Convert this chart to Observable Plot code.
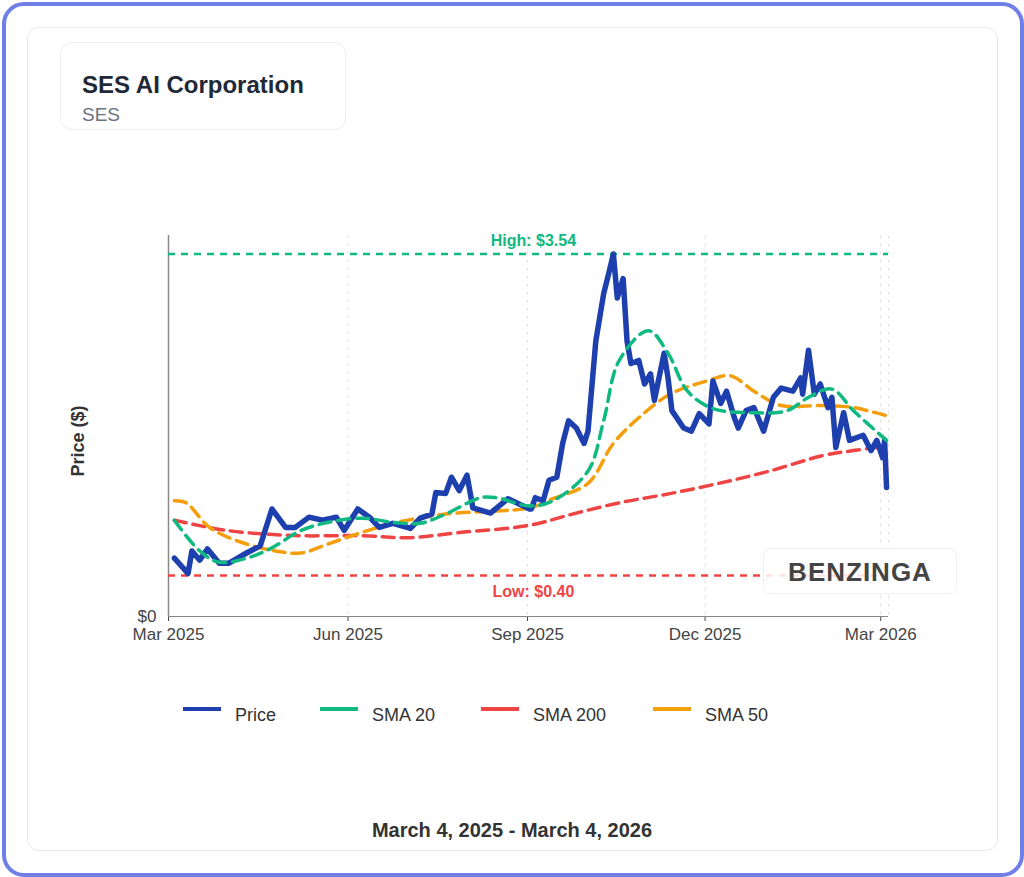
<!DOCTYPE html>
<html><head><meta charset="utf-8">
<script src="https://cdn.jsdelivr.net/npm/d3@7"></script>
<script src="https://cdn.jsdelivr.net/npm/@observablehq/plot@0.6"></script>
<style>
body{margin:0;width:1024px;height:877px;position:relative;font-family:"Liberation Sans",Arial,sans-serif;background:#fff;overflow:hidden}
.frame{position:absolute;left:2px;top:2px;width:1014px;height:867px;border:4px solid #6f7fe6;border-radius:22px}
.card{position:absolute;left:27px;top:27px;width:969px;height:822px;border:1px solid #e5e7eb;border-radius:12px}
.title{position:absolute;left:60px;top:42px;width:284px;height:86px;border:1px solid #eceef1;border-radius:12px;background:rgba(255,255,255,.9);z-index:2}
.title .t{position:absolute;left:21px;top:28px;font-weight:700;font-size:24px;color:#1f2937}
.title .s{position:absolute;left:21px;top:61px;font-size:19px;color:#6b7280}
#chart{position:absolute;left:0;top:0}
.wm{position:absolute;left:763px;top:548px;width:192px;height:44px;border:1px solid #f0f0f0;border-radius:8px;background:rgba(255,255,255,.85);font:700 26px "Liberation Sans",Arial,sans-serif;color:#444;text-align:center;line-height:46px;letter-spacing:1px}
.ylab{position:absolute;left:78px;top:441px;transform:translate(-50%,-50%) rotate(-90deg);font-weight:700;font-size:18px;color:#333;white-space:nowrap}
.leg{position:absolute;top:705px;font-size:18px;color:#333}
.leg span.sw{position:absolute;top:2px;width:38px;height:4px}
.foot{position:absolute;left:0;width:1024px;top:819px;text-align:center;font-weight:700;font-size:20px;color:#333}
</style></head><body>
<div class="frame"></div><div class="card"></div>
<div id="chart"></div>
<div class="title"><div class="t">SES AI Corporation</div><div class="s">SES</div></div>
<div class="wm">BENZINGA</div>
<div class="ylab">Price ($)</div>
<div id="legend"></div>
<div class="foot">March 4, 2025 - March 4, 2026</div>
<script>
const priceDates=["2025-03-04","2025-03-11","2025-03-13","2025-03-17","2025-03-21","2025-03-27","2025-04-01","2025-04-10","2025-04-17","2025-04-23","2025-04-30","2025-05-05","2025-05-12","2025-05-19","2025-05-26","2025-05-30","2025-06-06","2025-06-12","2025-06-17","2025-06-24","2025-07-03","2025-07-08","2025-07-14","2025-07-16","2025-07-21","2025-07-24","2025-07-28","2025-08-01","2025-08-04","2025-08-13","2025-08-22","2025-09-02","2025-09-03","2025-09-05","2025-09-09","2025-09-12","2025-09-16","2025-09-19","2025-09-22","2025-09-26","2025-09-30","2025-10-02","2025-10-06","2025-10-10","2025-10-13","2025-10-15","2025-10-17","2025-10-20","2025-10-22","2025-10-24","2025-10-28","2025-10-31","2025-11-03","2025-11-05","2025-11-10","2025-11-12","2025-11-14","2025-11-20","2025-11-24","2025-11-28","2025-12-03","2025-12-05","2025-12-09","2025-12-12","2025-12-16","2025-12-18","2025-12-22","2025-12-26","2025-12-31","2026-01-05","2026-01-09","2026-01-15","2026-01-19","2026-01-20","2026-01-23","2026-01-26","2026-01-29","2026-02-02","2026-02-04","2026-02-06","2026-02-10","2026-02-13","2026-02-20","2026-02-24","2026-02-27","2026-03-02","2026-03-03","2026-03-04"];
const priceValues=[0.57,0.42,0.64,0.55,0.66,0.52,0.52,0.62,0.69,1.05,0.87,0.87,0.97,0.94,0.97,0.84,1.05,0.97,0.87,0.91,0.86,0.96,1.00,1.21,1.20,1.36,1.23,1.38,1.06,1.01,1.15,1.05,1.05,1.16,1.13,1.33,1.36,1.69,1.91,1.84,1.69,1.81,2.69,3.15,3.38,3.54,3.11,3.30,2.69,2.47,2.50,2.27,2.37,2.11,2.57,2.33,2.01,1.84,1.81,1.98,1.88,2.30,2.08,2.20,1.94,1.84,2.01,2.04,1.81,2.14,2.23,2.20,2.33,2.17,2.60,2.17,2.27,2.04,2.14,1.65,1.99,1.72,1.77,1.62,1.72,1.55,1.72,1.26];
const sma20Dates=["2025-03-04","2025-03-17","2025-03-27","2025-04-10","2025-04-22","2025-05-08","2025-05-22","2025-06-08","2025-06-24","2025-07-08","2025-07-21","2025-08-08","2025-08-16","2025-09-02","2025-09-14","2025-10-02","2025-10-10","2025-10-18","2025-11-02","2025-11-12","2025-11-22","2025-12-05","2025-12-26","2026-01-12","2026-01-23","2026-02-04","2026-02-15","2026-03-04"];
const sma20Values=[0.94,0.64,0.53,0.57,0.66,0.84,0.92,0.96,0.92,0.91,1.00,1.16,1.16,1.08,1.13,1.42,1.91,2.50,2.79,2.57,2.20,2.03,1.99,2.01,2.14,2.22,2.01,1.72];
const sma50Dates=["2025-03-04","2025-03-10","2025-03-22","2025-04-08","2025-04-25","2025-05-08","2025-05-22","2025-06-08","2025-06-24","2025-07-21","2025-08-16","2025-09-02","2025-09-14","2025-10-02","2025-10-15","2025-10-28","2025-11-13","2025-12-02","2025-12-14","2025-12-26","2026-01-09","2026-01-30","2026-02-15","2026-03-04"];
const sma50Values=[1.13,1.11,0.87,0.72,0.64,0.62,0.71,0.82,0.91,1.00,1.03,1.06,1.15,1.30,1.69,1.94,2.17,2.30,2.35,2.20,2.06,2.06,2.04,1.96];
const sma200Dates=["2025-03-04","2025-03-31","2025-05-05","2025-06-08","2025-07-03","2025-07-28","2025-09-02","2025-09-24","2025-10-18","2025-11-13","2025-12-08","2026-01-03","2026-01-30","2026-02-15","2026-03-03"];
const sma200Values=[0.94,0.84,0.79,0.79,0.77,0.82,0.89,1.00,1.11,1.20,1.30,1.42,1.57,1.62,1.66];
const xTickDates=["2025-03-01","2025-06-01","2025-09-01","2025-12-01","2026-03-01"];
const xTickLabels=["Mar 2025","Jun 2025","Sep 2025","Dec 2025","Mar 2026"];
const high=3.54, low=0.40;
const seriesNames=["Price","SMA 20","SMA 200","SMA 50"];
const seriesColors=["#1e3fae","#10b981","#ef4444","#f59e0b"];

const P=d=>new Date(d+"T00:00:00");
const mk=(ds,vs)=>ds.map((d,i)=>({date:P(d),v:vs[i]}));
const price=mk(priceDates,priceValues),s20=mk(sma20Dates,sma20Values),s50=mk(sma50Dates,sma50Values),s200=mk(sma200Dates,sma200Values);
const x0=P("2025-03-01"),x1=P("2026-03-05");
const dash={strokeWidth:3.5,strokeDasharray:"12,7",curve:"catmull-rom"};
const chart=Plot.plot({
  width:1024,height:877,marginLeft:168,marginRight:136,marginTop:235,marginBottom:261,
  style:{fontFamily:"'Liberation Sans',Arial,sans-serif",fontSize:"17px",color:"#444",background:"transparent"},
  x:{type:"time",domain:[x0,x1],ticks:xTickDates.map(P),tickFormat:d=>xTickLabels[xTickDates.findIndex(t=>+P(t)===+d)],tickSize:5,tickPadding:6,label:null},
  y:{domain:[0,3.72],ticks:[0],tickFormat:d=>"$"+d,tickSize:0,tickPadding:12,label:null},
  marks:[
    Plot.ruleX(xTickDates.slice(1).map(P).concat([x1]),{stroke:"#e6e6e6",strokeDasharray:"4,4"}),
    Plot.ruleX([x0],{stroke:"#888",strokeWidth:1.5}),
    Plot.ruleY([0],{stroke:"#888",strokeWidth:1}),
    Plot.ruleY([high],{stroke:"#10b981",strokeWidth:2.5,strokeDasharray:"7,6"}),
    Plot.ruleY([low],{stroke:"#ef4444",strokeWidth:2.5,strokeDasharray:"7,6"}),
    Plot.text([high],{x:P("2025-09-04"),y:d=>d,text:d=>"High: $"+d.toFixed(2),dy:-13,fill:"#10b981",fontWeight:700,fontSize:16}),
    Plot.text([low],{x:P("2025-09-04"),y:d=>d,text:d=>"Low: $"+d.toFixed(2),dy:16,fill:"#ef4444",fontWeight:700,fontSize:16}),
    Plot.line(s200,{x:"date",y:"v",stroke:seriesColors[2],...dash}),
    Plot.line(s50,{x:"date",y:"v",stroke:seriesColors[3],...dash}),
    Plot.line(price,{x:"date",y:"v",stroke:seriesColors[0],strokeWidth:5.5,strokeLinejoin:"round",strokeLinecap:"round"}),
    Plot.line(s20,{x:"date",y:"v",stroke:seriesColors[1],...dash}),
  ]
});
document.getElementById("chart").appendChild(chart);
const leg=document.getElementById("legend");
const pos=[183,320,481,653];
seriesNames.forEach((n,i)=>{
  const d=document.createElement("div");d.className="leg";d.style.left=pos[i]+"px";
  d.innerHTML=`<span class="sw" style="background:${seriesColors[i]}"></span><span style="position:absolute;left:52px;top:0;white-space:nowrap">${n}</span>`;
  leg.appendChild(d);
});
</script></body></html>
